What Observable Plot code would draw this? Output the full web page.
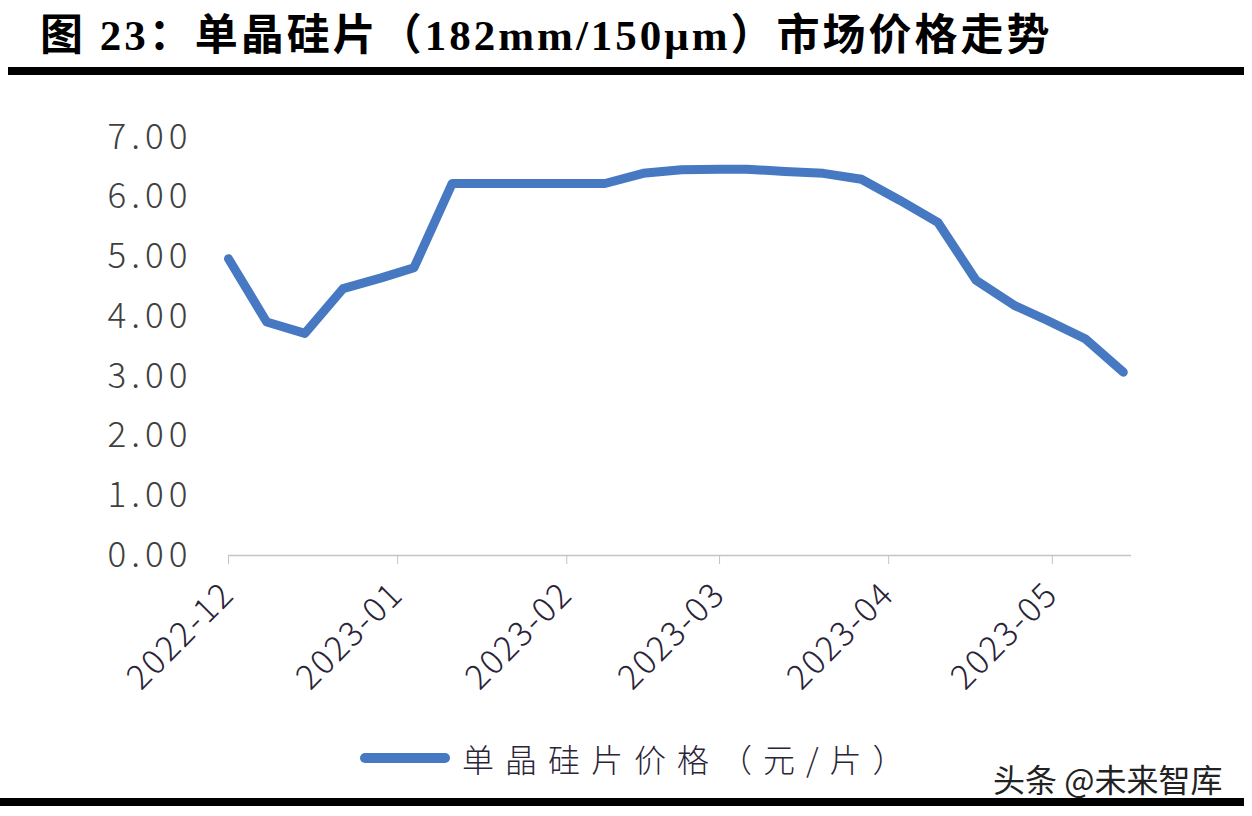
<!DOCTYPE html>
<html><head><meta charset="utf-8">
<script src="https://cdn.jsdelivr.net/npm/d3@7"></script>
<script src="https://cdn.jsdelivr.net/npm/@observablehq/plot@0.6"></script>
<style>
html,body{margin:0;padding:0;background:#fff;}
#page{position:relative;width:1252px;height:816px;overflow:hidden;background:#fff;font-family:"Noto Sans CJK SC",sans-serif;}
#title{position:absolute;left:40px;top:6px;font-size:43px;font-weight:bold;letter-spacing:3px;color:#000;white-space:nowrap;font-family:"Liberation Serif","Noto Sans CJK SC",serif;line-height:60px;}
#rule1{position:absolute;left:8px;top:67px;width:1236px;height:8px;background:#000;}
#rule2{position:absolute;left:0px;top:798px;width:1244px;height:8px;background:#000;}
#chart{position:absolute;left:0;top:75px;}
#legend{position:absolute;left:360px;top:736px;height:44px;display:flex;align-items:center;white-space:nowrap;}
#legend .sw{width:90px;height:10px;border-radius:5px;background:#4679c2;margin-right:12px;}
#legend .lb{font-size:32px;font-weight:300;color:#2a2438;letter-spacing:11px;}
#wm{position:absolute;left:993px;top:755px;font-size:32px;color:#222;white-space:nowrap;text-shadow:0 0 2px #fff;}
</style>
</head><body>
<div id="page">
  <div id="title">图 23：单晶硅片（182mm/150μm）市场价格走势</div>
  <div id="rule1"></div>
  <div id="chart"></div>
  <div id="legend"><div class="sw"></div><div class="lb"></div></div>
  <div id="wm">头条 @未来智库</div>
  <div id="rule2"></div>
</div>
<script>
const seriesName = "单晶硅片价格（元/片）";
const dates = ["2022-12-01","2022-12-08","2022-12-15","2022-12-22","2022-12-29",
  "2023-01-04","2023-01-11","2023-01-18","2023-01-25","2023-02-01","2023-02-08",
  "2023-02-15","2023-02-22","2023-03-01","2023-03-06","2023-03-13","2023-03-20",
  "2023-03-27","2023-04-03","2023-04-10","2023-04-17","2023-04-24","2023-04-30",
  "2023-05-07","2023-05-14"];
const prices = [4.97,3.91,3.72,4.47,4.65,4.82,6.23,6.23,6.23,6.23,6.23,6.40,6.46,
  6.47,6.47,6.43,6.40,6.30,5.95,5.58,4.61,4.19,3.94,3.63,3.07];
const xTickLabels = ["2022-12","2023-01","2023-02","2023-03","2023-04","2023-05"];
const yTickValues = [0,1,2,3,4,5,6,7];

const parse = d3.utcParse("%Y-%m-%d");
const parseMonth = d3.utcParse("%Y-%m");
const data = dates.map((d,i)=>({date:parse(d), price:prices[i]}));
const xTicks = xTickLabels.map(parseMonth);

const chart = Plot.plot({
  width:1252, height:640,
  marginLeft:228, marginRight:121, marginTop:62, marginBottom:160,
  style:{fontFamily:'"Noto Sans CJK SC", sans-serif', background:"transparent", color:"#404040", overflow:"visible"},
  x:{type:"utc", domain:[parse("2022-12-01"), new Date("2023-05-15T12:00Z")], label:null},
  y:{domain:[0,7], label:null},
  marks:[
    Plot.ruleY([0],{stroke:"#c4c4c4", strokeWidth:1.5}),
    Plot.axisY({ticks:yTickValues, tickSize:0, tickPadding:36, tickFormat:d=>d.toFixed(2), fontSize:35, fontWeight:300, fill:"#404040", label:null}),
    Plot.axisX({ticks:xTicks, tickSize:9, stroke:"#c4c4c4", tickRotate:-45, tickFormat:d3.utcFormat("%Y-%m"), fontSize:34, fontWeight:300, tickPadding:24, fill:"#2a2438", label:null}),
    Plot.line(data,{x:"date", y:"price", stroke:"#4679c2", strokeWidth:9, strokeLinejoin:"round", strokeLinecap:"round"})
  ]
});
document.getElementById("chart").appendChild(chart);
d3.select(chart).selectAll('[aria-label="y-axis tick label"] text').style("letter-spacing","5px");
d3.select(chart).selectAll('[aria-label="x-axis tick label"] text').style("letter-spacing","2px");
document.querySelector("#legend .lb").textContent = seriesName;
</script>
</body></html>
